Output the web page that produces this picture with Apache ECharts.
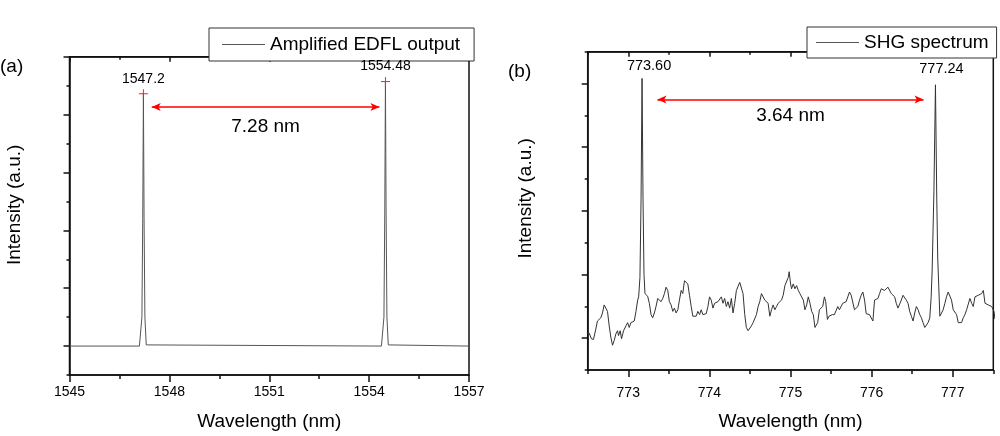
<!DOCTYPE html>
<html>
<head>
<meta charset="utf-8">
<script src="https://cdn.jsdelivr.net/npm/echarts@6/dist/echarts.min.js"></script>
<style>
html,body{margin:0;padding:0;background:#fff;}
#chart{width:1000px;height:436px;}
</style>
</head>
<body>
<div id="chart"></div>
<script>
// ---------- data ----------
const edflName = 'Amplified EDFL output';
const shgName = 'SHG spectrum';

const edflWavelength = [1545, 1547.10, 1547.135, 1547.175, 1547.20, 1547.22, 1547.24, 1547.265, 1547.305, 1547.34,
  1554.37, 1554.405, 1554.445, 1554.47, 1554.49, 1554.51, 1554.535, 1554.575, 1554.61, 1557];
const edflIntensity = [0, 0, 0.02, 0.5, 2.2, 4.36, 2.2, 0.5, 0.02, 0,
  0, 0.02, 0.5, 2.3, 4.57, 2.3, 0.5, 0.02, 0, 0];

const shgWavelength = [772.49, 772.497, 772.517, 772.546, 772.571, 772.600, 772.620, 772.641, 772.662, 772.682, 772.703,
  772.724, 772.744, 772.765, 772.785, 772.806, 772.827, 772.847, 772.868, 772.880, 772.901, 772.917, 772.942,
  772.971, 772.992, 773.012, 773.033, 773.054, 773.074, 773.095, 773.116, 773.128, 773.144, 773.158, 773.170,
  773.182, 773.194, 773.206, 773.219, 773.239, 773.260, 773.281, 773.301, 773.322, 773.342, 773.363, 773.384,
  773.404, 773.425, 773.446, 773.466, 773.487, 773.507, 773.528, 773.549, 773.569, 773.590, 773.611, 773.631,
  773.652, 773.672, 773.693, 773.714, 773.734, 773.755, 773.776, 773.796, 773.817, 773.837, 773.858, 773.879,
  773.899, 773.920, 773.941, 773.961, 773.982, 774.002, 774.023, 774.044, 774.064, 774.085, 774.106, 774.126,
  774.147, 774.168, 774.188, 774.209, 774.229, 774.250, 774.271, 774.291, 774.312, 774.333, 774.353, 774.374,
  774.394, 774.415, 774.436, 774.456, 774.477, 774.497, 774.518, 774.539, 774.559, 774.580, 774.601, 774.621,
  774.642, 774.662, 774.683, 774.704, 774.724, 774.745, 774.766, 774.786, 774.807, 774.828, 774.848, 774.869,
  774.889, 774.910, 774.931, 774.951, 774.972, 774.984, 775.001, 775.013, 775.034, 775.054, 775.075, 775.096,
  775.116, 775.137, 775.158, 775.178, 775.199, 775.219, 775.240, 775.261, 775.281, 775.302, 775.314, 775.335,
  775.356, 775.376, 775.397, 775.418, 775.434, 775.455, 775.475, 775.496, 775.516, 775.541, 775.562, 775.583,
  775.603, 775.624, 775.644, 775.665, 775.686, 775.706, 775.727, 775.748, 775.768, 775.789, 775.809, 775.830,
  775.851, 775.871, 775.892, 775.913, 775.933, 775.954, 775.974, 775.995, 776.016, 776.036, 776.057, 776.078,
  776.098, 776.119, 776.139, 776.160, 776.181, 776.201, 776.222, 776.243, 776.263, 776.284, 776.304, 776.325,
  776.346, 776.366, 776.387, 776.408, 776.428, 776.449, 776.469, 776.490, 776.511, 776.531, 776.552, 776.573,
  776.593, 776.614, 776.634, 776.655, 776.676, 776.696, 776.717, 776.734, 776.746, 776.768, 776.787, 776.803,
  776.815, 776.828, 776.841, 776.861, 776.882, 776.903, 776.923, 776.944, 776.965, 776.985, 777.006, 777.026,
  777.047, 777.068, 777.088, 777.109, 777.129, 777.150, 777.171, 777.191, 777.212, 777.233, 777.253, 777.274,
  777.295, 777.315, 777.336, 777.356, 777.377, 777.398, 777.418, 777.439, 777.460, 777.480, 777.509, 777.52];
const shgIntensity = [0.08, 0.066, 0.082, -0.010, -0.020, 0.142, 0.269, 0.254, 0.320, 0.396, 0.522,
  0.548, 0.421, 0.193, 0.016, -0.111, -0.035, 0.066, 0.117, 0.041, 0.117, -0.010, 0.117,
  0.193, 0.244, 0.168, 0.244, 0.269, 0.269, 0.421, 0.598, 0.649, 0.953, 2.2, 4.08,
  2.2, 1.0, 0.700, 0.674, 0.659, 0.548, 0.370, 0.320, 0.396, 0.497, 0.624, 0.598,
  0.573, 0.624, 0.700, 0.801, 0.750, 0.573, 0.522, 0.421, 0.472, 0.396, 0.446, 0.598,
  0.750, 0.700, 0.902, 0.928, 0.852, 0.674, 0.497, 0.345, 0.335, 0.345, 0.421, 0.370,
  0.446, 0.370, 0.355, 0.385, 0.497, 0.649, 0.598, 0.472, 0.548, 0.548, 0.573, 0.598,
  0.649, 0.548, 0.624, 0.497, 0.573, 0.472, 0.624, 0.396, 0.548, 0.750, 0.776, 0.877,
  0.902, 0.700, 0.370, 0.168, 0.117, 0.142, 0.193, 0.244, 0.218, 0.370, 0.497, 0.573,
  0.700, 0.674, 0.598, 0.624, 0.548, 0.345, 0.446, 0.522, 0.446, 0.497, 0.548, 0.573,
  0.598, 0.674, 0.826, 0.801, 0.953, 1.044, 0.852, 0.776, 0.852, 0.776, 0.826, 0.750,
  0.700, 0.725, 0.598, 0.446, 0.522, 0.649, 0.548, 0.421, 0.370, 0.168, 0.142, 0.244,
  0.446, 0.472, 0.497, 0.649, 0.573, 0.294, 0.345, 0.320, 0.370, 0.370, 0.396, 0.497,
  0.446, 0.421, 0.548, 0.522, 0.573, 0.598, 0.725, 0.674, 0.649, 0.446, 0.421, 0.497,
  0.598, 0.674, 0.725, 0.598, 0.385, 0.396, 0.370, 0.345, 0.269, 0.598, 0.608, 0.624,
  0.700, 0.776, 0.801, 0.750, 0.776, 0.801, 0.776, 0.700, 0.725, 0.649, 0.548, 0.472,
  0.472, 0.598, 0.674, 0.649, 0.598, 0.548, 0.421, 0.345, 0.269, 0.396, 0.497, 0.446,
  0.370, 0.320, 0.244, 0.168, 0.193, 0.244, 0.320, 0.649, 1.054, 2.3, 3.98, 2.2,
  1.26, 0.801, 0.345, 0.320, 0.446, 0.548, 0.649, 0.725, 0.700, 0.598, 0.446, 0.421,
  0.370, 0.244, 0.218, 0.244, 0.320, 0.370, 0.446, 0.472, 0.624, 0.548, 0.497, 0.649,
  0.649, 0.674, 0.659, 0.700, 0.750, 0.548, 0.548, 0.522, 0.537, 0.497, 0.421, 0.30];

const edflPeakWavelength = [1547.22, 1554.49];
const edflPeakIntensity = [4.36, 4.57];
const edflPeakLabels = ['1547.2', '1554.48'];
const shgPeakWavelength = [773.170, 776.787];
const shgPeakIntensity = [4.08, 3.98];
const shgPeakLabels = ['773.60', '777.24'];

const edflArrowFrom = [1547.47, 4.13];
const edflArrowTo = [1554.31, 4.13];
const edflArrowText = '7.28 nm';
const shgArrowFrom = [773.36, 3.75];
const shgArrowTo = [776.64, 3.75];
const shgArrowText = '3.64 nm';

const edflMajorX = [1545, 1548, 1551, 1554, 1557];
const edflMinorX = [1546.5, 1549.5, 1552.5, 1555.5];
const edflMajorY = [0, 1, 2, 3, 4, 5];
const edflMinorY = [-0.5, 0.5, 1.5, 2.5, 3.5, 4.5];
const shgMajorX = [773, 774, 775, 776, 777];
const shgMinorX = [772.5, 773.5, 774.5, 775.5, 776.5, 777.5];
const shgMajorY = [0, 1, 2, 3, 4];
const shgMinorY = [-0.5, 0.5, 1.5, 2.5, 3.5, 4.5];

// ---------- chart ----------
const FONT = '"Liberation Sans", Arial, sans-serif';
const AX = '#111';
const zip = (a, b) => a.map((v, i) => [v, b[i]]);

function xAxes(grid, min, max, major, minor, name, nameGap, labelMargin) {
  const base = {gridIndex: grid, type: 'value', min: min, max: max, splitLine: {show: false}};
  return [
    Object.assign({}, base, {
      position: 'bottom',
      axisLine: {show: true, onZero: false, lineStyle: {color: AX, width: 1.5}},
      axisTick: {show: true, customValues: major, length: 7, lineStyle: {color: AX, width: 1.5}},
      axisLabel: {show: true, customValues: major, fontSize: 14, color: '#000', margin: labelMargin,
        fontFamily: FONT, formatter: v => String(v)},
      name: name, nameLocation: 'middle', nameGap: nameGap,
      nameTextStyle: {fontSize: 19, color: '#000', fontFamily: FONT}
    }),
    Object.assign({}, base, {
      position: 'bottom',
      axisLine: {show: false, onZero: false},
      axisTick: {show: true, customValues: minor, length: 4, lineStyle: {color: AX, width: 1.5}},
      axisLabel: {show: false}
    }),
    Object.assign({}, base, {
      position: 'top',
      axisLine: {show: true, onZero: false, lineStyle: {color: AX, width: 1.5}},
      axisTick: {show: true, inside: true, customValues: major, length: 5, lineStyle: {color: AX, width: 1.5}},
      axisLabel: {show: false}
    }),
    Object.assign({}, base, {
      position: 'top',
      axisLine: {show: false, onZero: false},
      axisTick: {show: true, inside: true, customValues: minor, length: 3, lineStyle: {color: AX, width: 1.5}},
      axisLabel: {show: false}
    })
  ];
}

function yAxes(grid, min, max, major, minor, nameGap, namePad) {
  const base = {gridIndex: grid, type: 'value', min: min, max: max, position: 'left', splitLine: {show: false}};
  return [
    Object.assign({}, base, {
      axisLine: {show: true, onZero: false, lineStyle: {color: AX, width: 1.5}},
      axisTick: {show: true, customValues: major, length: 6, lineStyle: {color: AX, width: 1.5}},
      axisLabel: {show: false, customValues: major},
      name: 'Intensity (a.u.)', nameLocation: 'middle', nameGap: nameGap,
      nameTextStyle: {fontSize: 19, color: '#000', fontFamily: FONT, padding: [0, 0, 0, namePad]}
    }),
    Object.assign({}, base, {
      axisLine: {show: false, onZero: false},
      axisTick: {show: true, customValues: minor, length: 3, lineStyle: {color: AX, width: 1.5}},
      axisLabel: {show: false, customValues: minor}
    })
  ];
}

const plusPath = 'path://M0,5H10M5,0V10';

function arrow(from, to, text, dist) {
  return {
    silent: true,
    symbol: ['arrow', 'arrow'],
    symbolSize: [6, 9],
    lineStyle: {color: '#ff0000', width: 1.6, type: 'solid'},
    label: {show: true, position: 'insideMiddleBottom', formatter: text, fontSize: 19, color: '#000',
      fontFamily: FONT, distance: dist},
    emphasis: {disabled: true},
    data: [[{coord: from}, {coord: to}]]
  };
}

const legendBase = {
  orient: 'horizontal', icon: 'rect', itemWidth: 43, itemHeight: 1, backgroundColor: '#fff',
  borderColor: '#333', borderWidth: 1, borderRadius: 0, selectedMode: false,
  textStyle: {fontSize: 19, color: '#000', fontFamily: FONT}
};

const option = {
  animation: false,
  textStyle: {fontFamily: FONT},
  title: [
    {text: '(a)', left: 0, top: 57, padding: 0, textStyle: {fontSize: 19, fontWeight: 'normal', color: '#000', fontFamily: FONT}},
    {text: '(b)', left: 508, top: 62, padding: 0, textStyle: {fontSize: 19, fontWeight: 'normal', color: '#000', fontFamily: FONT}}
  ],
  legend: [
    Object.assign({}, legendBase, {data: [edflName], left: 209, top: 28, padding: [7, 14, 7, 13]}),
    Object.assign({}, legendBase, {data: [shgName], left: 807, top: 27, padding: [6, 8, 6, 9]})
  ],
  grid: [
    {left: 69.5, top: 56.7, width: 399.5, height: 321, show: true, borderColor: AX, borderWidth: 1.5, backgroundColor: 'transparent'},
    {left: 587.7, top: 51.7, width: 405.6, height: 328.3, show: true, borderColor: AX, borderWidth: 1.5, backgroundColor: 'transparent'}
  ],
  xAxis: [].concat(
    xAxes(0, 1545, 1557, edflMajorX, edflMinorX, 'Wavelength (nm)', 37, 10),
    xAxes(1, 772.5, 777.5, shgMajorX, shgMinorX, 'Wavelength (nm)', 42, 16)
  ),
  yAxis: [].concat(
    yAxes(0, -0.5, 5, edflMajorY, edflMinorY, 45, 22),
    yAxes(1, -0.5, 4.5, shgMajorY, shgMinorY, 52, 25)
  ),
  series: [
    {
      name: edflName, type: 'line', xAxisIndex: 0, yAxisIndex: 0,
      data: zip(edflWavelength, edflIntensity), symbol: 'none', showSymbol: false,
      lineStyle: {color: '#555', width: 1}, itemStyle: {color: '#555'},
      emphasis: {disabled: true}, z: 3,
      markLine: arrow(edflArrowFrom, edflArrowTo, edflArrowText, 10)
    },
    {
      type: 'scatter', xAxisIndex: 0, yAxisIndex: 0,
      data: zip(edflPeakWavelength, edflPeakIntensity),
      symbol: plusPath, symbolSize: 9,
      itemStyle: {color: 'rgba(0,0,0,0)', borderColor: '#ff2020', borderWidth: 1, opacity: 1},
      silent: true, z: 4,
      label: {show: true, position: 'top', distance: 3, fontSize: 14, color: '#000', fontFamily: FONT,
        formatter: p => edflPeakLabels[p.dataIndex]}
    },
    {
      name: shgName, type: 'line', xAxisIndex: 4, yAxisIndex: 2,
      data: zip(shgWavelength, shgIntensity), symbol: 'none', showSymbol: false,
      lineStyle: {color: '#333', width: 1}, itemStyle: {color: '#555'},
      emphasis: {disabled: true}, z: 3,
      markLine: arrow(shgArrowFrom, shgArrowTo, shgArrowText, 7)
    },
    {
      type: 'scatter', xAxisIndex: 4, yAxisIndex: 2,
      data: zip(shgPeakWavelength, shgPeakIntensity),
      symbolSize: 1, itemStyle: {color: 'rgba(0,0,0,0)', opacity: 1}, silent: true, z: 4,
      label: {show: true, position: 'top', distance: 0, fontSize: 14.5, color: '#000', fontFamily: FONT,
        formatter: p => shgPeakLabels[p.dataIndex]},
      labelLayout: p => ({dx: p.dataIndex === 0 ? 7 : 6, dy: p.dataIndex === 0 ? -4 : -8})
    }
  ]
};

const chart = echarts.init(document.getElementById('chart'), null, {renderer: 'canvas'});
chart.setOption(option);
</script>
</body>
</html>
